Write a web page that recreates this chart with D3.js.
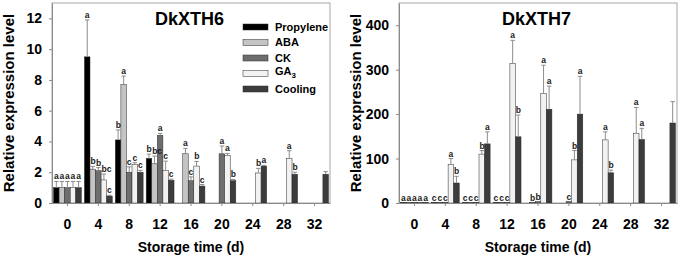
<!DOCTYPE html>
<html lang="en">
  <head>
    <meta charset="utf-8" />
    <title>DkXTH6 / DkXTH7</title>
    <script src="https://d3js.org/d3.v7.min.js"></script>
    <style>
      body { margin: 0; background: #fff; }
      svg text { font-family: "Liberation Sans", Arial, sans-serif; font-weight: bold; }
      .axis path, .axis line { stroke: #8a8a8a; }
      .axis text { font-size: 14px; fill: #000; }
    </style>
  </head>
  <body>
    <svg width="680" height="259"></svg>
    <script>
      const days = [0, 4, 8, 12, 16, 20, 24, 28, 32];
      const treatments = ["Propylene", "ABA", "CK", "GA3", "Cooling"];
      const fills = ["#000000", "#c4c4c4", "#6e6e6e", "#f2f2f2", "#3c3c3c"];

      // DkXTH6, one row per treatment, one value per storage day
      const xth6Mean = [
        [1.0, 9.5, 4.1, 2.9, null, null, null, null, null],
        [1.0, 2.2, 7.7, 2.55, 3.2, null, null, null, null],
        [1.0, 2.1, 2.0, 4.4, 1.45, 3.2, null, null, null],
        [1.0, 1.5, 2.5, 2.1, 2.4, 3.1, 1.95, 2.9, null],
        [1.0, 0.45, 2.0, 1.48, 1.1, 1.45, 2.4, 1.87, 1.87],
      ];
      const xth6Err = [
        [0.4, 2.4, 0.65, 0.28, 0, 0, 0, 0, 0],
        [0.4, 0.18, 0.55, 0.5, 0.35, 0, 0, 0, 0],
        [0.4, 0.2, 0.35, 0.12, 0.25, 0.5, 0, 0, 0],
        [0.4, 0.38, 0.12, 0.62, 0.3, 0.12, 0.3, 0.5, 0],
        [0.4, 0.05, 0.12, 0.07, 0.1, 0.08, 0.05, 0.13, 0.17],
      ];
      const xth6Sig = [
        ["a", "a", "b", "b", "", "", "", "", ""],
        ["a", "b", "a", "bc", "a", "", "", "", ""],
        ["a", "b", "c", "a", "c", "a", "", "", ""],
        ["a", "bc", "c", "c", "b", "a", "b", "a", ""],
        ["a", "c", "c", "c", "c", "b", "a", "b", ""],
      ];
      const xth6Ticks = [0, 2, 4, 6, 8, 10, 12];

      // DkXTH7
      const xth7Mean = [
        [1, 1, 1, 1, null, null, null, null, null],
        [1, 1, 1, 1, 1, null, null, null, null],
        [1, 1, 1, 1, 3, 3, null, null, null],
        [1, 87, 110, 314, 246, 97, 142, 157, null],
        [1, 45, 133, 149, 211, 200, 68, 143, 180],
      ];
      const xth7Err = [
        [0, 0, 0, 0, 0, 0, 0, 0, 0],
        [0, 0, 0, 0, 0, 0, 0, 0, 0],
        [0, 0, 0, 0, 0, 0, 0, 0, 0],
        [0, 13, 8, 52, 64, 21, 18, 58, 0],
        [0, 15, 27, 49, 52, 85, 6, 25, 48],
      ];
      const xth7Sig = [
        ["a", "c", "c", "c", "", "", "", "", ""],
        ["a", "c", "c", "c", "b", "", "", "", ""],
        ["a", "c", "c", "c", "b", "c", "", "", ""],
        ["a", "a", "b", "a", "a", "b", "a", "a", ""],
        ["a", "b", "a", "b", "a", "a", "b", "a", ""],
      ];
      const xth7Ticks = [0, 100, 200, 300, 400];

      const svg = d3.select("svg");
      const plotTop = 3,
        plotBottom = 203;

      function drawPanel(p) {
        const g = svg.append("g");

        const x = d3
          .scaleBand()
          .domain(days)
          .range([p.left, p.right])
          .paddingInner(0.1)
          .paddingOuter(0.05);
        const xs = d3
          .scaleBand()
          .domain(treatments)
          .range([0, x.bandwidth()]);
        const y = d3
          .scaleLinear()
          .domain([0, p.yMax])
          .range([plotBottom, plotTop]);
        const colour = d3.scaleOrdinal().domain(treatments).range(fills);

        const rows = [];
        treatments.forEach((t, j) => {
          days.forEach((d, i) => {
            if (p.mean[j][i] == null) return;
            rows.push({
              day: d,
              treatment: t,
              value: p.mean[j][i],
              err: p.err[j][i],
              sig: p.sig[j][i],
            });
          });
        });
        const barX = (d) => x(d.day) + xs(d.treatment);

        // frame
        g.append("rect")
          .attr("x", p.left)
          .attr("y", plotTop)
          .attr("width", p.right - p.left)
          .attr("height", plotBottom - plotTop)
          .attr("fill", "none")
          .attr("stroke", "#a6a6a6");

        // bars
        g.append("g")
          .selectAll("rect")
          .data(rows)
          .enter()
          .append("rect")
          .attr("x", barX)
          .attr("y", (d) => y(d.value))
          .attr("width", xs.bandwidth())
          .attr("height", (d) => plotBottom - y(d.value))
          .attr("fill", (d) => colour(d.treatment))
          .attr("stroke", "#2a2a2a")
          .attr("stroke-width", 0.5);

        // error bars (upper only)
        const eb = g
          .append("g")
          .attr("stroke", "#8c8c8c")
          .attr("stroke-width", 1)
          .selectAll("g")
          .data(rows.filter((d) => d.err > 0))
          .enter()
          .append("g");
        eb.append("line")
          .attr("x1", (d) => barX(d) + xs.bandwidth() / 2)
          .attr("x2", (d) => barX(d) + xs.bandwidth() / 2)
          .attr("y1", (d) => y(d.value))
          .attr("y2", (d) => y(d.value + d.err));
        eb.append("line")
          .attr("x1", (d) => barX(d) + xs.bandwidth() / 2 - 2.2)
          .attr("x2", (d) => barX(d) + xs.bandwidth() / 2 + 2.2)
          .attr("y1", (d) => y(d.value + d.err))
          .attr("y2", (d) => y(d.value + d.err));

        // significance letters, left-aligned on their bar like the original
        g.append("g")
          .selectAll("text")
          .data(rows.filter((d) => d.sig))
          .enter()
          .append("text")
          .attr("x", (d) => barX(d) + 0.4)
          .attr("y", (d) => y(d.value + d.err) - 2)
          .attr("font-size", "8.5px")
          .attr("fill", "#1a1a1a")
          .text((d) => d.sig);

        // axes
        g.append("g")
          .attr("class", "axis")
          .attr("transform", "translate(0," + plotBottom + ")")
          .call(d3.axisBottom(x).tickSize(3).tickSizeOuter(0).tickPadding(13));
        g.append("g")
          .attr("class", "axis")
          .attr("transform", "translate(" + p.left + ",0)")
          .call(
            d3
              .axisLeft(y)
              .tickValues(p.ticks)
              .tickSize(3)
              .tickSizeOuter(0)
              .tickPadding(7)
          );

        // titles
        g.append("text")
          .attr("x", p.left + 103)
          .attr("y", 25)
          .attr("font-size", "18px")
          .text(p.title);
        g.append("text")
          .attr("transform", "translate(" + (p.left - 38) + ",103) rotate(-90)")
          .attr("text-anchor", "middle")
          .attr("font-size", "15px")
          .text("Relative expression level");
        g.append("text")
          .attr("x", (p.left + p.right) / 2)
          .attr("y", 252)
          .attr("text-anchor", "middle")
          .attr("font-size", "14px")
          .text("Storage time (d)");

        return g;
      }

      const left = drawPanel({
        left: 52,
        right: 330,
        yMax: 13,
        mean: xth6Mean,
        err: xth6Err,
        sig: xth6Sig,
        ticks: xth6Ticks,
        title: "DkXTH6",
      });

      drawPanel({
        left: 399,
        right: 677,
        yMax: 450,
        mean: xth7Mean,
        err: xth7Err,
        sig: xth7Sig,
        ticks: xth7Ticks,
        title: "DkXTH7",
      });

      // legend (left panel only)
      const legend = left
        .append("g")
        .selectAll("g")
        .data(treatments)
        .enter()
        .append("g")
        .attr("transform", (d, i) => "translate(243," + (27 + i * 15.5) + ")");
      legend
        .append("rect")
        .attr("x", 0)
        .attr("y", -3)
        .attr("width", 25)
        .attr("height", 6)
        .attr("fill", (d, i) => fills[i])
        .attr("stroke", "#2a2a2a")
        .attr("stroke-width", 0.5);
      const legendText = legend
        .append("text")
        .attr("x", 32)
        .attr("dy", "0.36em")
        .attr("font-size", "11px");
      legendText.append("tspan").text((d) => (d === "GA3" ? "GA" : d));
      legendText
        .filter((d) => d === "GA3")
        .attr("dy", "0.1em")
        .append("tspan")
        .attr("font-size", "8px")
        .attr("dy", "0.45em")
        .text("3");
    </script>
  </body>
</html>
